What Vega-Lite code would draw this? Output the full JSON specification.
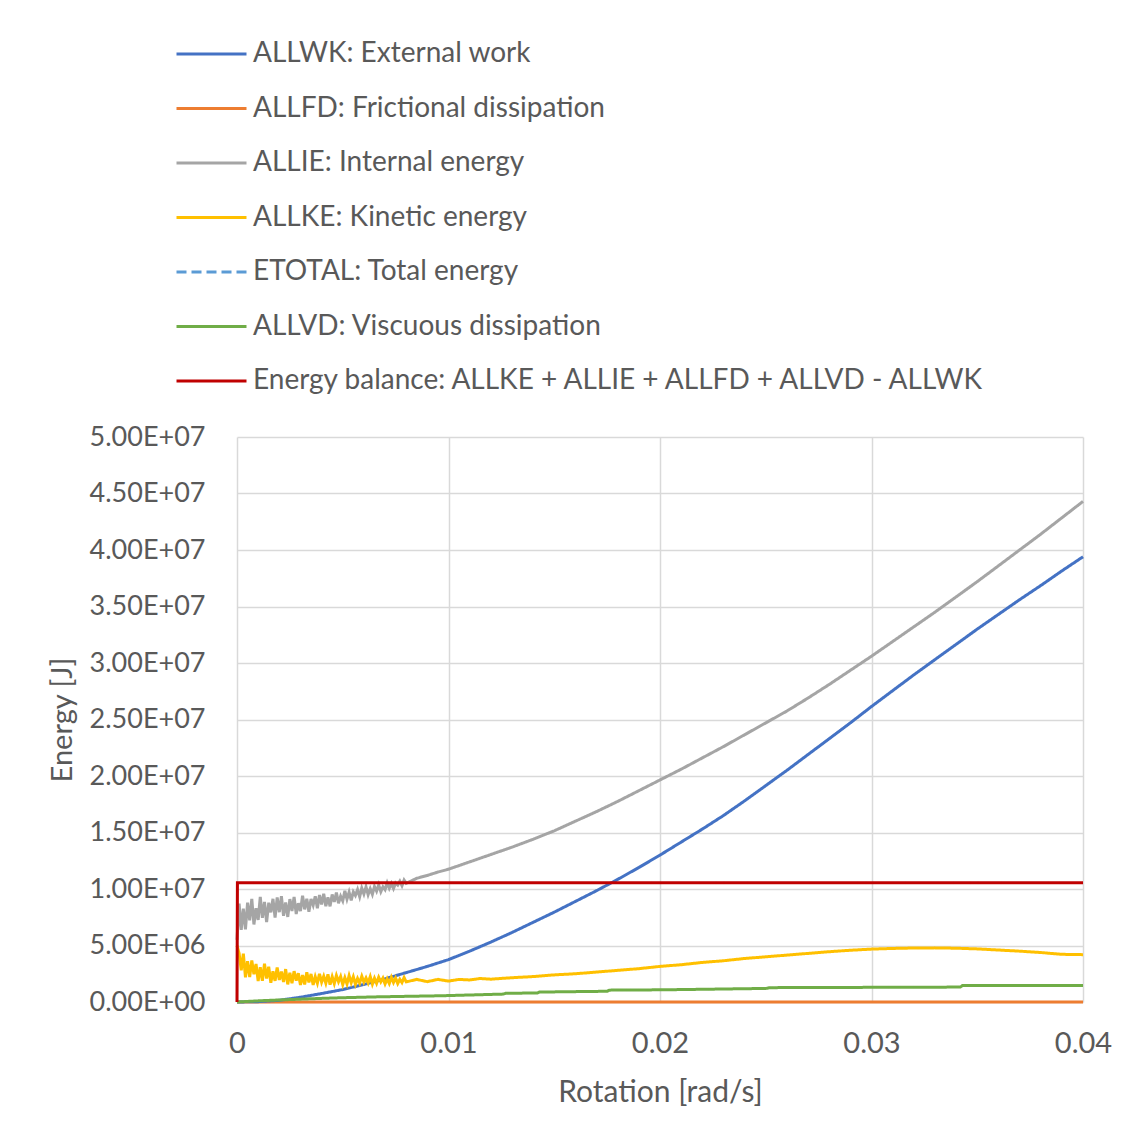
{
"$schema": "https://vega.github.io/schema/vega-lite/v6.json",
"width": 846, "height": 565,
"autosize": "none",
"padding": {"left": 237, "top": 437, "right": 57, "bottom": 136},
"background": "white",
"config": {"font": "Lato", "view": {"stroke": null}},
"datasets": {"names": [
 {"s": "WK", "name": "ALLWK: External work"},
 {"s": "FD", "name": "ALLFD: Frictional dissipation"},
 {"s": "IE", "name": "ALLIE: Internal energy"},
 {"s": "KE", "name": "ALLKE: Kinetic energy"},
 {"s": "ET", "name": "ETOTAL: Total energy"},
 {"s": "VD", "name": "ALLVD: Viscuous dissipation"},
 {"s": "EB", "name": "Energy balance: ALLKE + ALLIE + ALLFD + ALLVD - ALLWK"}
]},
"data": {"values": [
 {"s":"FD","x":0,"y":0},{"s":"FD","x":0.04,"y":0},
 {"s":"WK","x":0,"y":0},{"s":"WK","x":0.001,"y":3e4},{"s":"WK","x":0.002,"y":1.5e5},{"s":"WK","x":0.003,"y":4.2e5},{"s":"WK","x":0.004,"y":7.5e5},{"s":"WK","x":0.005,"y":1.1e6},{"s":"WK","x":0.006,"y":1.55e6},{"s":"WK","x":0.007,"y":2.05e6},{"s":"WK","x":0.008,"y":2.6e6},{"s":"WK","x":0.009,"y":3.15e6},{"s":"WK","x":0.01,"y":3.75e6},{"s":"WK","x":0.011,"y":4.5e6},{"s":"WK","x":0.012,"y":5.3e6},{"s":"WK","x":0.013,"y":6.15e6},{"s":"WK","x":0.014,"y":7.05e6},{"s":"WK","x":0.015,"y":7.95e6},{"s":"WK","x":0.016,"y":8.9e6},{"s":"WK","x":0.017,"y":9.85e6},{"s":"WK","x":0.018,"y":10.85e6},{"s":"WK","x":0.019,"y":11.9e6},{"s":"WK","x":0.02,"y":13.0e6},{"s":"WK","x":0.021,"y":14.15e6},{"s":"WK","x":0.022,"y":15.3e6},{"s":"WK","x":0.023,"y":16.5e6},{"s":"WK","x":0.024,"y":17.8e6},{"s":"WK","x":0.025,"y":19.15e6},{"s":"WK","x":0.026,"y":20.5e6},{"s":"WK","x":0.027,"y":21.9e6},{"s":"WK","x":0.028,"y":23.3e6},{"s":"WK","x":0.029,"y":24.7e6},{"s":"WK","x":0.03,"y":26.15e6},{"s":"WK","x":0.031,"y":27.55e6},{"s":"WK","x":0.032,"y":28.95e6},{"s":"WK","x":0.033,"y":30.3e6},{"s":"WK","x":0.034,"y":31.65e6},{"s":"WK","x":0.035,"y":33.0e6},{"s":"WK","x":0.036,"y":34.3e6},{"s":"WK","x":0.037,"y":35.6e6},{"s":"WK","x":0.038,"y":36.85e6},{"s":"WK","x":0.039,"y":38.15e6},{"s":"WK","x":0.04,"y":39.4e6},
 {"s":"IE","x":0,"y":5.5e6},{"s":"IE","x":0.0001,"y":8.7e6},{"s":"IE","x":0.0002,"y":6.38e6},{"s":"IE","x":0.0003,"y":8.26e6},{"s":"IE","x":0.0004,"y":6.42e6},{"s":"IE","x":0.0005,"y":8.8e6},{"s":"IE","x":0.0006,"y":7.23e6},{"s":"IE","x":0.0007,"y":9.12e6},{"s":"IE","x":0.0008,"y":6.86e6},{"s":"IE","x":0.0009,"y":8.3e6},{"s":"IE","x":0.001,"y":7.26e6},
 {"s":"IE","x":0.0011,"y":9.31e6},{"s":"IE","x":0.0012,"y":7.45e6},{"s":"IE","x":0.0013,"y":8.86e6},{"s":"IE","x":0.0014,"y":7.08e6},{"s":"IE","x":0.0015,"y":8.78e6},{"s":"IE","x":0.0016,"y":7.93e6},{"s":"IE","x":0.0017,"y":9.13e6},{"s":"IE","x":0.0018,"y":7.47e6},{"s":"IE","x":0.0019,"y":9.25e6},{"s":"IE","x":0.002,"y":7.95e6},
 {"s":"IE","x":0.0021,"y":9.36e6},{"s":"IE","x":0.0022,"y":7.63e6},{"s":"IE","x":0.0023,"y":8.81e6},{"s":"IE","x":0.0024,"y":7.53e6},{"s":"IE","x":0.0025,"y":9.11e6},{"s":"IE","x":0.0026,"y":8.06e6},{"s":"IE","x":0.0027,"y":9.3e6},{"s":"IE","x":0.0028,"y":7.79e6},{"s":"IE","x":0.0029,"y":8.74e6},{"s":"IE","x":0.003,"y":8.04e6},
 {"s":"IE","x":0.0031,"y":9.41e6},{"s":"IE","x":0.0032,"y":8.2e6},{"s":"IE","x":0.0033,"y":9.14e6},{"s":"IE","x":0.0034,"y":7.98e6},{"s":"IE","x":0.0035,"y":9.11e6},{"s":"IE","x":0.0036,"y":8.57e6},{"s":"IE","x":0.0037,"y":9.36e6},{"s":"IE","x":0.0038,"y":8.3e6},{"s":"IE","x":0.0039,"y":9.46e6},{"s":"IE","x":0.004,"y":8.64e6},
 {"s":"IE","x":0.0041,"y":9.58e6},{"s":"IE","x":0.0042,"y":8.48e6},{"s":"IE","x":0.0043,"y":9.26e6},{"s":"IE","x":0.0044,"y":8.47e6},{"s":"IE","x":0.0045,"y":9.51e6},{"s":"IE","x":0.0046,"y":8.86e6},{"s":"IE","x":0.0047,"y":9.68e6},{"s":"IE","x":0.0048,"y":8.74e6},{"s":"IE","x":0.0049,"y":9.36e6},{"s":"IE","x":0.005,"y":8.95e6},
 {"s":"IE","x":0.0051,"y":9.83e6},{"s":"IE","x":0.0052,"y":9.1e6},{"s":"IE","x":0.0053,"y":9.72e6},{"s":"IE","x":0.0054,"y":9.0e6},{"s":"IE","x":0.0055,"y":9.75e6},{"s":"IE","x":0.0056,"y":9.43e6},{"s":"IE","x":0.0057,"y":9.95e6},{"s":"IE","x":0.0058,"y":9.31e6},{"s":"IE","x":0.0059,"y":10.08e6},{"s":"IE","x":0.006,"y":9.56e6},
 {"s":"IE","x":0.0061,"y":10.19e6},{"s":"IE","x":0.0062,"y":9.5e6},{"s":"IE","x":0.0063,"y":10.02e6},{"s":"IE","x":0.0064,"y":9.53e6},{"s":"IE","x":0.0065,"y":10.22e6},{"s":"IE","x":0.0066,"y":9.81e6},{"s":"IE","x":0.0067,"y":10.36e6},{"s":"IE","x":0.0068,"y":9.76e6},{"s":"IE","x":0.0069,"y":10.19e6},{"s":"IE","x":0.007,"y":9.94e6},
 {"s":"IE","x":0.0071,"y":10.54e6},{"s":"IE","x":0.0072,"y":10.06e6},{"s":"IE","x":0.0073,"y":10.49e6},{"s":"IE","x":0.0074,"y":10.04e6},{"s":"IE","x":0.0075,"y":10.53e6},{"s":"IE","x":0.0076,"y":10.35e6},{"s":"IE","x":0.0077,"y":10.69e6},{"s":"IE","x":0.0078,"y":10.29e6},{"s":"IE","x":0.0079,"y":10.79e6},{"s":"IE","x":0.008,"y":10.5e6},
 {"s":"IE","x":0.0085,"y":10.95e6},{"s":"IE","x":0.009,"y":11.2e6},{"s":"IE","x":0.0095,"y":11.5e6},{"s":"IE","x":0.01,"y":11.75e6},{"s":"IE","x":0.011,"y":12.4e6},{"s":"IE","x":0.012,"y":13.05e6},{"s":"IE","x":0.013,"y":13.7e6},{"s":"IE","x":0.014,"y":14.4e6},{"s":"IE","x":0.015,"y":15.15e6},{"s":"IE","x":0.016,"y":16.0e6},{"s":"IE","x":0.017,"y":16.85e6},{"s":"IE","x":0.018,"y":17.75e6},{"s":"IE","x":0.019,"y":18.7e6},{"s":"IE","x":0.02,"y":19.65e6},{"s":"IE","x":0.021,"y":20.6e6},{"s":"IE","x":0.022,"y":21.6e6},{"s":"IE","x":0.023,"y":22.6e6},{"s":"IE","x":0.024,"y":23.65e6},{"s":"IE","x":0.025,"y":24.7e6},{"s":"IE","x":0.026,"y":25.75e6},{"s":"IE","x":0.027,"y":26.9e6},{"s":"IE","x":0.028,"y":28.1e6},{"s":"IE","x":0.029,"y":29.35e6},{"s":"IE","x":0.03,"y":30.6e6},{"s":"IE","x":0.031,"y":31.9e6},{"s":"IE","x":0.032,"y":33.2e6},{"s":"IE","x":0.033,"y":34.5e6},{"s":"IE","x":0.034,"y":35.85e6},{"s":"IE","x":0.035,"y":37.2e6},{"s":"IE","x":0.036,"y":38.6e6},{"s":"IE","x":0.037,"y":40.0e6},{"s":"IE","x":0.038,"y":41.4e6},{"s":"IE","x":0.039,"y":42.85e6},{"s":"IE","x":0.04,"y":44.3e6},
 {"s":"KE","x":0,"y":5.0e6},{"s":"KE","x":0.0001,"y":4.3e6},{"s":"KE","x":0.0002,"y":2.8e6},{"s":"KE","x":0.0003,"y":4.28e6},{"s":"KE","x":0.0004,"y":2.19e6},{"s":"KE","x":0.0005,"y":3.61e6},{"s":"KE","x":0.0006,"y":2.21e6},{"s":"KE","x":0.0007,"y":3.68e6},{"s":"KE","x":0.0008,"y":2.45e6},{"s":"KE","x":0.0009,"y":3.36e6},{"s":"KE","x":0.001,"y":1.85e6},
 {"s":"KE","x":0.0011,"y":3.08e6},{"s":"KE","x":0.0012,"y":1.88e6},{"s":"KE","x":0.0013,"y":3.39e6},{"s":"KE","x":0.0014,"y":2.07e6},{"s":"KE","x":0.0015,"y":3.12e6},{"s":"KE","x":0.0016,"y":1.7e6},{"s":"KE","x":0.0017,"y":2.72e6},{"s":"KE","x":0.0018,"y":1.87e6},{"s":"KE","x":0.0019,"y":3.06e6},{"s":"KE","x":0.002,"y":1.95e6},
 {"s":"KE","x":0.0021,"y":2.69e6},{"s":"KE","x":0.0022,"y":1.78e6},{"s":"KE","x":0.0023,"y":2.91e6},{"s":"KE","x":0.0024,"y":1.56e6},{"s":"KE","x":0.0025,"y":2.59e6},{"s":"KE","x":0.0026,"y":1.67e6},{"s":"KE","x":0.0027,"y":2.73e6},{"s":"KE","x":0.0028,"y":1.89e6},{"s":"KE","x":0.0029,"y":2.55e6},{"s":"KE","x":0.003,"y":1.5e6},
 {"s":"KE","x":0.0031,"y":2.39e6},{"s":"KE","x":0.0032,"y":1.56e6},{"s":"KE","x":0.0033,"y":2.63e6},{"s":"KE","x":0.0034,"y":1.73e6},{"s":"KE","x":0.0035,"y":2.48e6},{"s":"KE","x":0.0036,"y":1.51e6},{"s":"KE","x":0.0037,"y":2.24e6},{"s":"KE","x":0.0038,"y":1.67e6},{"s":"KE","x":0.0039,"y":2.5e6},{"s":"KE","x":0.004,"y":1.76e6},
 {"s":"KE","x":0.0041,"y":2.28e6},{"s":"KE","x":0.0042,"y":1.67e6},{"s":"KE","x":0.0043,"y":2.45e6},{"s":"KE","x":0.0044,"y":1.53e6},{"s":"KE","x":0.0045,"y":2.24e6},{"s":"KE","x":0.0046,"y":1.63e6},{"s":"KE","x":0.0047,"y":2.35e6},{"s":"KE","x":0.0048,"y":1.79e6},{"s":"KE","x":0.0049,"y":2.25e6},{"s":"KE","x":0.005,"y":1.55e6},
 {"s":"KE","x":0.0051,"y":2.15e6},{"s":"KE","x":0.0052,"y":1.6e6},{"s":"KE","x":0.0053,"y":2.33e6},{"s":"KE","x":0.0054,"y":1.71e6},{"s":"KE","x":0.0055,"y":2.24e6},{"s":"KE","x":0.0056,"y":1.56e6},{"s":"KE","x":0.0057,"y":2.08e6},{"s":"KE","x":0.0058,"y":1.68e6},{"s":"KE","x":0.0059,"y":2.28e6},{"s":"KE","x":0.006,"y":1.75e6},
 {"s":"KE","x":0.0061,"y":2.13e6},{"s":"KE","x":0.0062,"y":1.68e6},{"s":"KE","x":0.0063,"y":2.25e6},{"s":"KE","x":0.0064,"y":1.58e6},{"s":"KE","x":0.0065,"y":2.11e6},{"s":"KE","x":0.0066,"y":1.65e6},{"s":"KE","x":0.0067,"y":2.19e6},{"s":"KE","x":0.0068,"y":1.78e6},{"s":"KE","x":0.0069,"y":2.11e6},{"s":"KE","x":0.007,"y":1.6e6},
 {"s":"KE","x":0.0071,"y":2.05e6},{"s":"KE","x":0.0072,"y":1.64e6},{"s":"KE","x":0.0073,"y":2.19e6},{"s":"KE","x":0.0074,"y":1.73e6},{"s":"KE","x":0.0075,"y":2.12e6},{"s":"KE","x":0.0076,"y":1.63e6},{"s":"KE","x":0.0077,"y":2.01e6},{"s":"KE","x":0.0078,"y":1.72e6},{"s":"KE","x":0.0079,"y":2.16e6},{"s":"KE","x":0.008,"y":1.78e6},
 {"s":"KE","x":0.0085,"y":2.0e6},{"s":"KE","x":0.009,"y":1.8e6},{"s":"KE","x":0.0095,"y":2.0e6},{"s":"KE","x":0.01,"y":1.85e6},{"s":"KE","x":0.0105,"y":2.0e6},{"s":"KE","x":0.011,"y":1.95e6},{"s":"KE","x":0.0115,"y":2.08e6},{"s":"KE","x":0.012,"y":2.02e6},{"s":"KE","x":0.013,"y":2.15e6},{"s":"KE","x":0.014,"y":2.25e6},{"s":"KE","x":0.015,"y":2.4e6},{"s":"KE","x":0.016,"y":2.5e6},{"s":"KE","x":0.017,"y":2.65e6},{"s":"KE","x":0.018,"y":2.8e6},{"s":"KE","x":0.019,"y":2.95e6},{"s":"KE","x":0.02,"y":3.15e6},{"s":"KE","x":0.021,"y":3.3e6},{"s":"KE","x":0.022,"y":3.5e6},{"s":"KE","x":0.023,"y":3.65e6},{"s":"KE","x":0.024,"y":3.85e6},{"s":"KE","x":0.025,"y":4.0e6},{"s":"KE","x":0.026,"y":4.15e6},{"s":"KE","x":0.027,"y":4.3e6},{"s":"KE","x":0.028,"y":4.45e6},{"s":"KE","x":0.029,"y":4.58e6},{"s":"KE","x":0.03,"y":4.68e6},{"s":"KE","x":0.031,"y":4.74e6},{"s":"KE","x":0.032,"y":4.78e6},{"s":"KE","x":0.033,"y":4.79e6},{"s":"KE","x":0.034,"y":4.76e6},{"s":"KE","x":0.035,"y":4.7e6},{"s":"KE","x":0.036,"y":4.6e6},{"s":"KE","x":0.037,"y":4.5e6},{"s":"KE","x":0.038,"y":4.38e6},{"s":"KE","x":0.039,"y":4.22e6},{"s":"KE","x":0.04,"y":4.19e6},
 {"s":"VD","x":0,"y":0},{"s":"VD","x":0.001,"y":1.0e5},{"s":"VD","x":0.002,"y":1.8e5},{"s":"VD","x":0.003,"y":2.5e5},{"s":"VD","x":0.004,"y":3.2e5},{"s":"VD","x":0.005,"y":3.8e5},{"s":"VD","x":0.0065,"y":4.5e5},{"s":"VD","x":0.008,"y":5.0e5},{"s":"VD","x":0.0096,"y":5.5e5},{"s":"VD","x":0.011,"y":6.2e5},{"s":"VD","x":0.0126,"y":7.0e5},{"s":"VD","x":0.0127,"y":7.7e5},{"s":"VD","x":0.0142,"y":8.0e5},{"s":"VD","x":0.0143,"y":8.8e5},{"s":"VD","x":0.0175,"y":9.5e5},{"s":"VD","x":0.0176,"y":1.05e6},{"s":"VD","x":0.0202,"y":1.08e6},{"s":"VD","x":0.025,"y":1.2e6},{"s":"VD","x":0.0252,"y":1.27e6},{"s":"VD","x":0.0342,"y":1.32e6},{"s":"VD","x":0.0343,"y":1.45e6},{"s":"VD","x":0.04,"y":1.47e6},
 {"s":"EB","x":0,"y":0},{"s":"EB","x":0.00002,"y":10.55e6},{"s":"EB","x":0.04,"y":10.55e6}
]},
"transform": [{"lookup": "s", "from": {"data": {"name": "names"}, "key": "s", "fields": ["name"]}}],
"mark": {"type": "line", "strokeWidth": 3, "clip": false},
"encoding": {
 "x": {"field": "x", "type": "quantitative",
  "scale": {"domain": [0, 0.04], "nice": false},
  "axis": {"title": "Rotation [rad/s]", "values": [0, 0.01, 0.02, 0.03, 0.04],
   "labelExpr": "datum.value == 0 ? '0' : format(datum.value, '.2f')",
   "grid": true, "gridColor": "#d9d9d9", "gridWidth": 1.5, "domain": false, "ticks": false,
   "labelFont": "Lato", "labelFontSize": 29, "labelColor": "#595959", "labelPadding": 27,
   "labelFlush": false, "labelOverlap": false, "labelBound": false,
   "titleFont": "Lato", "titleFontSize": 30, "titleFontWeight": "normal", "titleColor": "#595959", "titlePadding": 19}},
 "y": {"field": "y", "type": "quantitative",
  "scale": {"domain": [0, 50000000], "nice": false},
  "axis": {"title": "Energy [J]",
   "values": [0, 5000000, 10000000, 15000000, 20000000, 25000000, 30000000, 35000000, 40000000, 45000000, 50000000],
   "labelExpr": "datum.value == 0 ? '0.00E+00' : (datum.value < 10000000 ? format(datum.value / 1000000, '.2f') + 'E+06' : format(datum.value / 10000000, '.2f') + 'E+07')",
   "grid": true, "gridColor": "#d9d9d9", "gridWidth": 1.5, "domain": false, "ticks": false,
   "labelFont": "Lato", "labelFontSize": 27, "labelColor": "#595959", "labelPadding": 32,
   "labelOverlap": false, "labelBound": false,
   "titleFont": "Lato", "titleFontSize": 29, "titleFontWeight": "normal", "titleColor": "#595959", "titlePadding": 12}},
 "color": {"field": "name", "type": "nominal",
  "scale": {"domain": ["ALLWK: External work", "ALLFD: Frictional dissipation", "ALLIE: Internal energy", "ALLKE: Kinetic energy", "ETOTAL: Total energy", "ALLVD: Viscuous dissipation", "Energy balance: ALLKE + ALLIE + ALLFD + ALLVD - ALLWK"],
   "range": ["#4472C4", "#ED7D31", "#A5A5A5", "#FFC000", "#5B9BD5", "#70AD47", "#C00000"]},
  "legend": {"title": null, "orient": "none", "legendX": -62, "legendY": -398, "direction": "vertical", "columns": 1,
   "symbolType": "stroke", "symbolSize": 4900, "symbolStrokeWidth": 3, "clipHeight": 30, "rowPadding": 24.5, "padding": 0,
   "labelFont": "Lato", "labelFontSize": 28, "labelColor": "#595959", "labelOffset": 5, "labelLimit": 0}},
 "strokeDash": {"field": "name", "type": "nominal",
  "scale": {"domain": ["ALLWK: External work", "ALLFD: Frictional dissipation", "ALLIE: Internal energy", "ALLKE: Kinetic energy", "ETOTAL: Total energy", "ALLVD: Viscuous dissipation", "Energy balance: ALLKE + ALLIE + ALLFD + ALLVD - ALLWK"],
   "range": [[1, 0], [1, 0], [1, 0], [1, 0], [10, 5], [1, 0], [1, 0]]},
  "legend": {"title": null, "orient": "none", "legendX": -62, "legendY": -398, "direction": "vertical", "columns": 1,
   "symbolType": "stroke", "symbolSize": 4900, "symbolStrokeWidth": 3, "clipHeight": 30, "rowPadding": 24.5, "padding": 0,
   "labelFont": "Lato", "labelFontSize": 28, "labelColor": "#595959", "labelOffset": 5, "labelLimit": 0}}
}
}
